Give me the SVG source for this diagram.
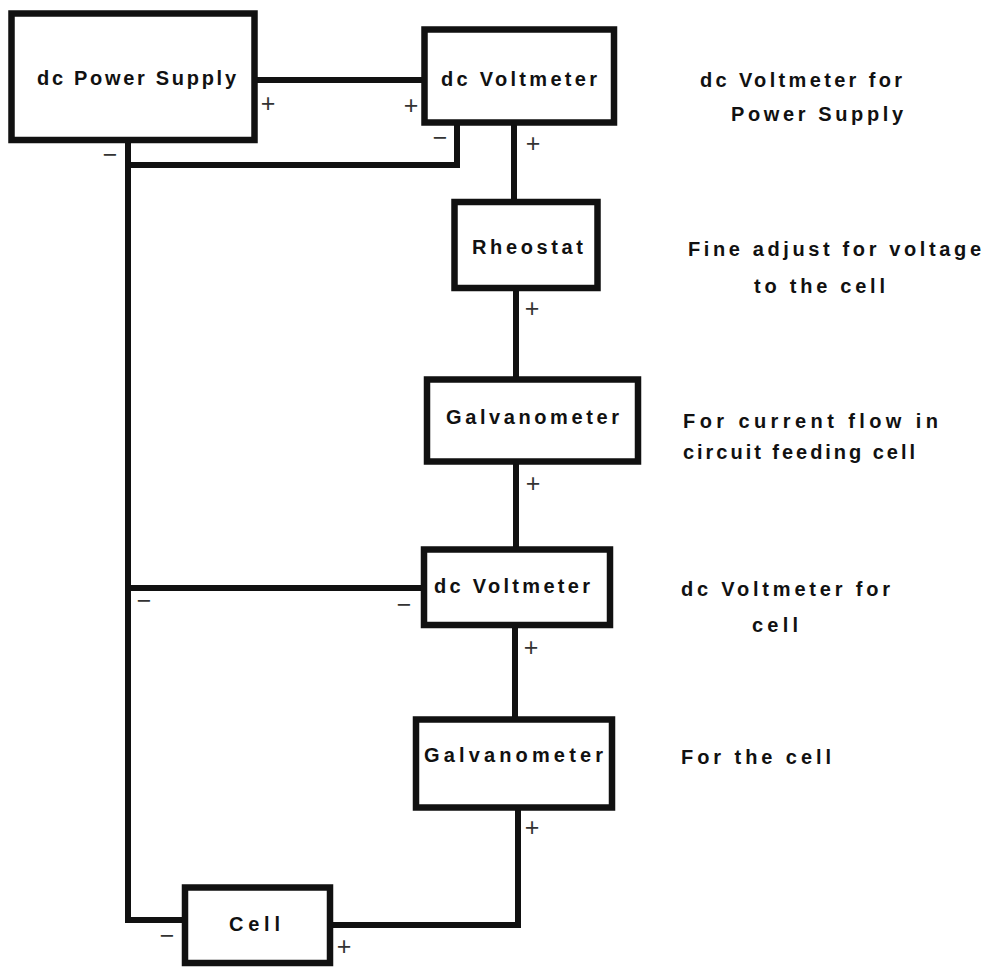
<svg xmlns="http://www.w3.org/2000/svg" width="992" height="969" viewBox="0 0 992 969">
<style>
.box{fill:#fff;stroke:#111;stroke-width:6.5;stroke-linejoin:miter}
.wire{fill:none;stroke:#111;stroke-width:6;stroke-linejoin:miter;stroke-linecap:square}
.lbl{font-family:"Liberation Sans",Arial,sans-serif;font-weight:bold;font-size:20px;fill:#111}
.note{font-family:"Liberation Sans",Arial,sans-serif;font-weight:bold;font-size:20px;fill:#111}
.sign{font-family:"Liberation Sans",Arial,sans-serif;font-weight:normal;font-size:25px;fill:#333;text-anchor:middle}
</style>
<rect width="992" height="969" fill="#fff"/>
<g id="connectors">
<path class="wire" d="M255,80 H424"/>
<path class="wire" d="M128,140 V920 H185"/>
<path class="wire" d="M128,165 H457 V123"/>
<path class="wire" d="M514,123 V202"/>
<path class="wire" d="M516,288 V379"/>
<path class="wire" d="M516,462 V549"/>
<path class="wire" d="M128,588 H424"/>
<path class="wire" d="M515,625 V719"/>
<path class="wire" d="M518,808 V925 H330"/>
</g>
<g id="power-supply">
<rect class="box" x="11.5" y="13.5" width="243" height="126.5"/>
<text class="lbl" x="37" y="85" textLength="199" lengthAdjust="spacing">dc Power Supply</text>
</g>
<g id="voltmeter-1">
<rect class="box" x="424.5" y="29.5" width="189.5" height="93"/>
<text class="lbl" x="441" y="86" textLength="156" lengthAdjust="spacing">dc Voltmeter</text>
</g>
<g id="rheostat">
<rect class="box" x="454.5" y="202" width="143" height="86"/>
<text class="lbl" x="472" y="254" textLength="111" lengthAdjust="spacing">Rheostat</text>
</g>
<g id="galvanometer-1">
<rect class="box" x="427" y="379.5" width="211" height="82"/>
<text class="lbl" x="446" y="424" textLength="173" lengthAdjust="spacing">Galvanometer</text>
</g>
<g id="voltmeter-2">
<rect class="box" x="424" y="549.5" width="186" height="75.5"/>
<text class="lbl" x="434" y="593" textLength="156" lengthAdjust="spacing">dc Voltmeter</text>
</g>
<g id="galvanometer-2">
<rect class="box" x="416" y="719.5" width="196" height="88"/>
<text class="lbl" x="424" y="762" textLength="179" lengthAdjust="spacing">Galvanometer</text>
</g>
<g id="cell">
<rect class="box" x="185" y="887.5" width="145" height="75.5"/>
<text class="lbl" x="229" y="931" textLength="51" lengthAdjust="spacing">Cell</text>
</g>
<g id="signs">
<text class="sign" x="268" y="112">+</text>
<text class="sign" x="411" y="114">+</text>
<text class="sign" x="110" y="163">−</text>
<text class="sign" x="440" y="146">−</text>
<text class="sign" x="533" y="152">+</text>
<text class="sign" x="532" y="317">+</text>
<text class="sign" x="533" y="492">+</text>
<text class="sign" x="404" y="613">−</text>
<text class="sign" x="144" y="609">−</text>
<text class="sign" x="531" y="656">+</text>
<text class="sign" x="532" y="836">+</text>
<text class="sign" x="167" y="944">−</text>
<text class="sign" x="344" y="955">+</text>
</g>
<g id="notes">
<text class="note" x="700" y="87" textLength="202" lengthAdjust="spacing">dc Voltmeter for</text>
<text class="note" x="731" y="121" textLength="172" lengthAdjust="spacing">Power Supply</text>
<text class="note" x="688" y="256" textLength="293" lengthAdjust="spacing">Fine adjust for voltage</text>
<text class="note" x="754" y="293" textLength="131" lengthAdjust="spacing">to the cell</text>
<text class="note" x="683" y="428" textLength="255" lengthAdjust="spacing">For current flow in</text>
<text class="note" x="683" y="459" textLength="232" lengthAdjust="spacing">circuit feeding cell</text>
<text class="note" x="681" y="596" textLength="209" lengthAdjust="spacing">dc Voltmeter for</text>
<text class="note" x="752" y="632" textLength="46" lengthAdjust="spacing">cell</text>
<text class="note" x="681" y="764" textLength="150" lengthAdjust="spacing">For the cell</text>
</g>
</svg>
